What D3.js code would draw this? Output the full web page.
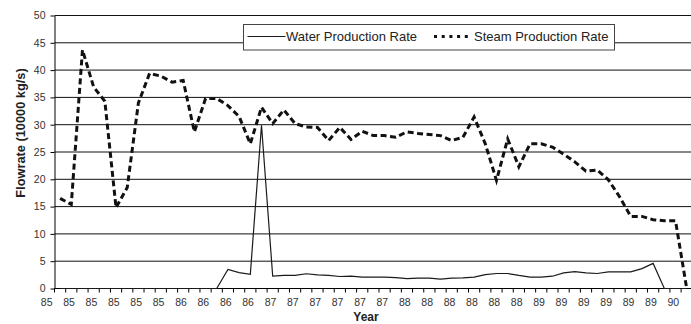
<!DOCTYPE html>
<html>
<head>
<meta charset="utf-8">
<script src="https://cdn.jsdelivr.net/npm/d3@7"></script>
<style>
  html, body { margin: 0; padding: 0; background: #fff; }
  svg { display: block; font-family: "Liberation Sans", Arial, sans-serif; }
</style>
</head>
<body>
<svg id="chart" width="691" height="324"></svg>
<script>
// Steam production rate per period (10000 kg/s)
const steamRate = [
  16.5, 15.4, 43.7, 36.9, 34.3, 14.8, 18.5, 34.0, 39.4, 38.9,
  37.8, 38.1, 28.7, 34.8, 34.8, 33.5, 31.5, 26.5, 33.2, 30.2,
  32.7, 30.2, 29.6, 29.5, 27.1, 29.5, 27.3, 28.8, 28.0, 28.0,
  27.7, 28.7, 28.4, 28.2, 28.0, 27.1, 27.7, 31.4, 26.5, 19.8,
  27.4, 22.3, 26.5, 26.5, 25.9, 24.6, 23.2, 21.5, 21.7, 19.9,
  16.8, 13.2, 13.2, 12.6, 12.4, 12.4, 0
];

// Water production rate per period (10000 kg/s)
const waterRate = [
  0, 0, 0, 0, 0, 0, 0, 0, 0, 0,
  0, 0, 0, 0, 0, 3.5, 2.9, 2.6, 29.9, 2.25,
  2.4, 2.4, 2.7, 2.5, 2.4, 2.2, 2.25, 2.1, 2.1, 2.1,
  2.0, 1.8, 1.9, 1.9, 1.7, 1.9, 1.95, 2.1, 2.55, 2.75,
  2.75, 2.4, 2.1, 2.1, 2.25, 2.85, 3.1, 2.85, 2.75, 3.05,
  3.05, 3.05, 3.65, 4.6, 0, 0, 0
];

// Year labels, one on every second period
const tickLabels = [
  "85", "85", "85", "85", "85", "85",
  "86", "86", "86", "86",
  "87", "87", "87", "87", "87", "87",
  "88", "88", "88", "88", "88", "88",
  "89", "89", "89", "89", "89", "89",
  "90"
];

const yTicks = [0, 5, 10, 15, 20, 25, 30, 35, 40, 45, 50];
const seriesNames = ["Water Production Rate", "Steam Production Rate"];

const svg = d3.select("#chart");
const periods = steamRate.map((_, i) => i);

const plotLeft = 54.5, plotRight = 692.3, plotTop = 15.5, plotBottom = 288.5;

const x = d3.scaleBand().domain(periods).range([plotLeft, plotRight]).paddingInner(0).paddingOuter(0);
const y = d3.scaleLinear().domain([0, 50]).range([plotBottom, plotTop]);
const cx = i => x(i) + x.bandwidth() / 2;

// horizontal gridlines
svg.append("g")
  .selectAll("line")
  .data(yTicks.filter(v => v > 0))
  .join("line")
  .attr("x1", plotLeft).attr("x2", 691)
  .attr("y1", d => y(d)).attr("y2", d => y(d))
  .attr("stroke", "#111").attr("stroke-width", 1);

// y axis
const yAxis = svg.append("g")
  .attr("transform", `translate(${plotLeft},0)`)
  .call(d3.axisLeft(y).tickValues(yTicks).tickSize(4).tickPadding(5).tickSizeOuter(0));
yAxis.select(".domain").attr("stroke", "#000");
yAxis.selectAll(".tick line").attr("stroke", "#000");
yAxis.selectAll(".tick text")
  .attr("fill", "#333").style("font-size", "10.5px")
  .style("font-family", "'Liberation Sans', Arial, sans-serif");

// x axis line and period ticks
svg.append("line")
  .attr("x1", plotLeft).attr("x2", 691)
  .attr("y1", plotBottom).attr("y2", plotBottom)
  .attr("stroke", "#000");

const boundaries = periods.concat([periods.length]);
svg.append("g")
  .selectAll("line")
  .data(boundaries)
  .join("line")
  .attr("x1", d => d < periods.length ? x(d) : plotRight)
  .attr("x2", d => d < periods.length ? x(d) : plotRight)
  .attr("y1", plotBottom).attr("y2", plotBottom + 4)
  .attr("stroke", "#000");

svg.append("g")
  .selectAll("text")
  .data(tickLabels)
  .join("text")
  .attr("x", (d, k) => x(k * 2) - 7.8)
  .attr("y", 306)
  .attr("text-anchor", "middle")
  .attr("fill", "#333")
  .style("font-size", "10.5px")
  .text(d => d);

// axis titles
svg.append("text")
  .attr("x", 366).attr("y", 321)
  .attr("text-anchor", "middle")
  .style("font-size", "12px").style("font-weight", "bold")
  .attr("fill", "#222")
  .text("Year");

svg.append("text")
  .attr("transform", "translate(24.5,133) rotate(-90)")
  .attr("text-anchor", "middle")
  .style("font-size", "12.8px").style("font-weight", "bold")
  .attr("fill", "#222")
  .text("Flowrate (10000 kg/s)");

// series lines
const line = d3.line()
  .x((d, i) => cx(i))
  .y(d => y(d))
  .curve(d3.curveLinear);

svg.append("path")
  .datum(waterRate)
  .attr("d", line)
  .attr("fill", "none")
  .attr("stroke", "#1a1a1a")
  .attr("stroke-width", 1.2);

svg.append("path")
  .datum(steamRate)
  .attr("d", line)
  .attr("fill", "none")
  .attr("stroke", "#111")
  .attr("stroke-width", 3)
  .attr("stroke-dasharray", "6,3.5");

// legend
const legend = svg.append("g");
legend.append("rect")
  .attr("x", 243.5).attr("y", 24.5)
  .attr("width", 371).attr("height", 25.5)
  .attr("fill", "#fff").attr("stroke", "#444").attr("stroke-width", 1);

legend.append("line")
  .attr("x1", 247.5).attr("x2", 285.5)
  .attr("y1", 36.5).attr("y2", 36.5)
  .attr("stroke", "#1a1a1a").attr("stroke-width", 1.2);
legend.append("text")
  .attr("x", 286).attr("y", 41)
  .style("font-size", "13px").attr("fill", "#222")
  .text(seriesNames[0]);

legend.append("line")
  .attr("x1", 434).attr("x2", 472)
  .attr("y1", 36.5).attr("y2", 36.5)
  .attr("stroke", "#111").attr("stroke-width", 3)
  .attr("stroke-dasharray", "3,4.7");
legend.append("text")
  .attr("x", 474).attr("y", 41)
  .style("font-size", "13px").attr("fill", "#222")
  .text(seriesNames[1]);
</script>
</body>
</html>
